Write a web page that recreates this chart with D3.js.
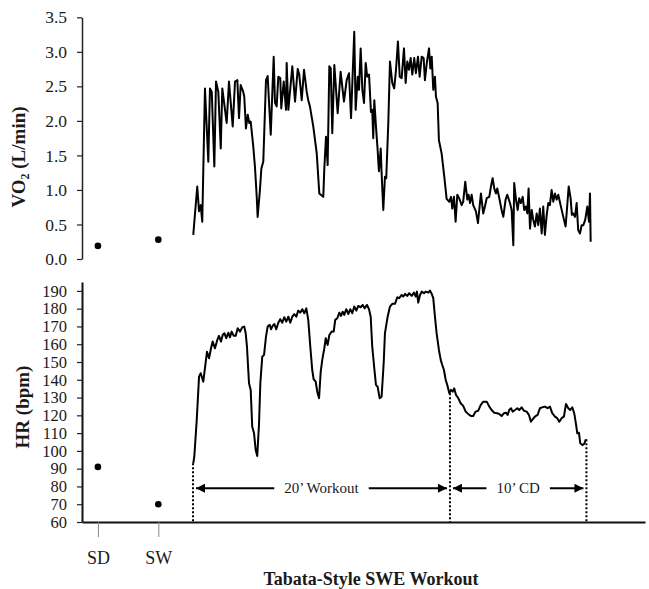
<!DOCTYPE html>
<html>
<head>
<meta charset="utf-8">
<script src="https://cdn.jsdelivr.net/npm/d3@7"></script>
<style>
  body { margin: 0; background: #fff; }
  svg text { font-family: "Liberation Serif", "Times New Roman", serif; fill: #1a1a1a; }
</style>
</head>
<body>
<div id="chart"></div>
<script>
var width = 649,
  height = 589;

// pre-exercise reference points (standing, slow walk)
var preLabels = ["SD", "SW"];
var prePos = [-7.4, -2.7];
var preVO2 = [0.19, 0.28];
var preHR = [91, 70];

// workout timeline, minutes
var vo2Time = [0.02,0.33,0.47,0.60,0.72,0.93,1.19,1.32,1.46,1.66,1.79,1.97,2.16,2.28,2.62,2.80,3.09,3.27,3.45,3.58,3.71,3.91,3.99,4.12,4.26,4.38,4.49,4.69,4.82,4.96,5.03,5.21,5.32,5.47,5.68,5.81,6.05,6.28,6.38,6.51,6.64,6.79,6.87,7.06,7.24,7.29,7.42,7.73,7.94,8.15,8.27,8.46,8.64,8.72,8.85,8.97,9.10,9.36,9.63,9.83,10.14,10.22,10.35,10.48,10.61,10.72,10.84,11.00,11.26,11.49,11.75,11.96,12.14,12.30,12.55,12.66,12.82,12.92,13.05,13.18,13.31,13.44,13.56,13.70,13.85,13.95,14.03,14.11,14.24,14.37,14.47,14.61,14.68,14.81,14.94,15.04,15.20,15.33,15.51,15.66,15.80,15.95,16.09,16.24,16.42,16.55,16.68,16.81,16.94,17.07,17.22,17.35,17.51,17.64,17.80,17.95,18.05,18.21,18.37,18.47,18.58,18.70,18.83,18.91,19.04,19.14,19.35,19.56,19.74,19.95,20.08,20.18,20.31,20.44,20.57,20.72,20.91,21.03,21.19,21.35,21.45,21.56,21.69,21.81,22.02,22.18,22.28,22.41,22.59,22.72,22.86,23.06,23.19,23.32,23.45,23.58,23.68,23.84,24.02,24.15,24.33,24.46,24.67,24.80,24.93,25.00,25.14,25.27,25.39,25.52,25.66,25.78,25.91,26.02,26.12,26.23,26.36,26.48,26.61,26.75,26.87,27.00,27.14,27.26,27.39,27.53,27.65,27.78,27.91,28.04,28.17,28.30,28.43,28.61,28.82,29.00,29.13,29.24,29.39,29.49,29.59,29.73,29.86,29.98,30.12,30.25,30.38,30.53,30.69,30.82,30.90,30.95];
var vo2Val = [0.35,1.05,0.69,0.78,0.54,2.47,1.41,2.47,2.42,1.34,2.57,2.42,1.60,2.47,1.97,2.57,1.92,2.57,2.59,2.04,2.52,2.42,2.35,1.89,2.09,1.97,1.99,1.63,1.34,0.90,0.61,1.00,1.31,1.41,2.59,2.65,1.80,2.93,2.26,2.21,2.64,2.62,2.18,2.57,2.16,2.84,2.16,2.79,2.28,2.75,2.67,2.30,2.74,2.62,2.42,2.30,2.21,1.92,1.53,0.95,0.90,1.31,1.77,1.36,2.79,2.76,1.82,2.81,2.11,2.71,2.28,2.59,2.69,2.04,3.29,2.16,2.64,2.45,3.05,2.45,2.26,2.84,2.64,2.67,2.13,2.16,1.75,2.30,1.92,1.58,1.27,1.60,1.24,0.71,1.19,1.17,1.97,2.86,2.55,2.47,2.74,3.15,2.64,2.62,3.05,2.55,2.86,2.74,2.91,2.67,2.91,2.69,2.93,2.64,2.93,2.91,2.59,2.86,3.05,2.76,2.93,2.45,2.64,2.35,2.26,1.72,1.53,1.19,0.87,0.83,0.90,0.73,0.90,0.54,0.93,0.88,0.78,0.83,1.12,0.86,0.93,0.81,0.93,0.78,0.69,0.52,0.71,0.95,0.66,0.76,0.88,0.90,1.05,1.17,1.02,0.95,1.02,0.88,0.71,0.61,0.86,0.93,0.81,0.71,0.20,1.10,0.86,0.71,0.88,0.81,0.90,0.71,0.76,0.66,1.02,0.44,0.71,0.57,0.47,0.66,0.49,0.73,0.37,0.76,0.35,0.64,0.81,0.78,1.00,0.83,0.95,0.86,0.93,0.78,0.61,0.47,0.78,1.05,0.88,0.64,0.66,0.61,0.81,0.42,0.37,0.49,0.49,0.57,0.76,0.54,0.95,0.25];

var hrTime = [0.02,0.10,0.29,0.47,0.60,0.80,0.93,1.09,1.25,1.40,1.53,1.71,1.89,2.02,2.18,2.31,2.44,2.59,2.75,2.88,3.01,3.17,3.32,3.48,3.66,3.84,3.99,4.10,4.20,4.36,4.49,4.61,4.75,4.88,5.00,5.14,5.24,5.39,5.53,5.68,5.81,5.97,6.07,6.20,6.33,6.48,6.64,6.79,6.95,7.10,7.26,7.42,7.57,7.73,7.88,8.04,8.19,8.35,8.51,8.66,8.82,8.97,9.13,9.28,9.39,9.55,9.67,9.81,9.94,10.06,10.22,10.33,10.48,10.61,10.79,10.95,11.07,11.23,11.39,11.52,11.65,11.77,11.93,12.09,12.24,12.40,12.55,12.71,12.86,13.05,13.21,13.36,13.54,13.70,13.83,13.95,14.11,14.24,14.37,14.53,14.68,14.84,14.94,15.15,15.33,15.51,15.72,15.90,16.05,16.24,16.37,16.50,16.68,16.83,17.02,17.20,17.33,17.43,17.53,17.67,17.80,17.98,18.11,18.31,18.44,18.58,18.70,18.83,18.96,19.14,19.28,19.40,19.53,19.67,19.79,19.95,20.08,20.21,20.33,20.47,20.65,20.83,21.03,21.22,21.42,21.63,21.81,22.00,22.20,22.39,22.59,22.86,23.03,23.24,23.45,23.66,23.84,24.02,24.20,24.36,24.49,24.61,24.75,24.88,25.06,25.24,25.39,25.58,25.76,25.97,26.15,26.30,26.44,26.61,26.82,27.00,27.18,27.39,27.60,27.78,27.96,28.17,28.35,28.51,28.69,28.87,29.03,29.21,29.36,29.52,29.67,29.80,29.91,30.04,30.14,30.30,30.45,30.58];
var hrVal = [93.0,96.7,117.4,141.8,143.7,138.9,146.5,155.8,152.1,157.7,161.5,157.7,162.4,164.7,161.5,165.2,166.2,163.4,166.5,163.9,167.1,164.7,164.7,169.0,167.1,169.6,169.9,166.2,158.6,138.0,134.3,113.6,109.9,100.5,97.1,115.5,138.0,153.0,154.0,164.3,169.9,170.9,168.4,170.3,171.4,168.4,172.1,174.1,172.1,175.2,172.7,175.5,172.1,175.5,176.9,175.5,178.9,177.8,179.7,177.4,180.2,173.7,158.6,145.5,140.3,138.9,133.3,129.6,144.6,151.2,157.7,163.4,159.6,165.2,167.1,167.1,173.7,174.6,177.8,175.9,178.3,176.5,179.7,177.0,179.7,177.4,181.2,178.9,181.5,180.8,182.1,180.2,182.1,179.7,175.5,158.6,146.5,137.1,136.1,129.6,130.5,149.3,166.2,175.5,181.2,182.7,182.7,186.4,185.9,187.7,186.8,188.3,187.2,188.7,187.2,189.0,186.8,189.6,183.4,187.7,189.6,188.7,189.6,189.0,190.2,188.3,185.9,175.5,166.2,156.8,151.2,148.3,145.5,139.9,137.1,132.4,134.3,133.3,135.2,131.5,129.6,126.8,125.3,122.1,120.8,119.6,119.6,122.1,122.6,125.8,127.7,127.7,125.3,123.0,121.5,121.2,120.8,119.6,121.2,121.5,120.2,123.0,124.0,122.1,123.0,124.0,123.0,124.5,122.6,122.1,120.2,116.4,117.8,119.3,120.2,124.0,124.5,124.9,124.0,124.9,121.2,119.3,118.4,116.4,118.4,119.3,126.4,124.0,123.0,124.5,121.2,115.5,109.9,110.2,104.3,103.3,103.9,106.5];

// phase boundaries and labels
var phaseEdges = [0, 20, 30.62];
var phaseLabels = ["20\u2019 Workout", "10\u2019 CD"];

var vo2Ticks = [0, 0.5, 1, 1.5, 2, 2.5, 3, 3.5];
var hrTicks = d3.range(60, 191, 10);

var left = 82, right = 645;

var svg = d3.select("#chart").append("svg")
  .attr("width", width)
  .attr("height", height);

var x = d3.scaleLinear().domain([-8.64, 35.18]).range([left, right]);
var yV = d3.scaleLinear().domain([0, 3.5]).range([259, 17.3]);
var yH = d3.scaleLinear().domain([60, 195]).range([522, 282]);

var vo2 = vo2Time.map(function (t, i) { return [t, vo2Val[i]]; });
var hr = hrTime.map(function (t, i) { return [t, hrVal[i]]; });

// ---- top panel: VO2
var gTop = svg.append("g");
gTop.append("g")
  .attr("transform", "translate(" + left + ",0)")
  .call(d3.axisLeft(yV).tickValues(vo2Ticks).tickFormat(d3.format(".1f")).tickSize(5).tickPadding(10).tickSizeOuter(0))
  .call(function (g) {
    g.selectAll("text").style("font-size", "17.5px");
    g.select(".domain").attr("stroke", "#222").attr("stroke-width", 1.5);
    g.selectAll(".tick line").attr("stroke", "#222").attr("stroke-width", 1.2);
  });

gTop.append("path")
  .datum(vo2)
  .attr("fill", "none")
  .attr("stroke", "#000")
  .attr("stroke-width", 2)
  .attr("stroke-linejoin", "round")
  .attr("d", d3.line().x(function (d) { return x(d[0]); }).y(function (d) { return yV(d[1]); }));

gTop.selectAll(".predot")
  .data(preVO2)
  .enter().append("circle")
  .attr("cx", function (d, i) { return x(prePos[i]); })
  .attr("cy", function (d) { return yV(d); })
  .attr("r", 3.3)
  .attr("fill", "#000");

var vLab = gTop.append("text")
  .attr("transform", "translate(25," + 157 + ")rotate(-90)")
  .attr("text-anchor", "middle")
  .style("font-size", "19px")
  .style("font-weight", "bold");
vLab.append("tspan").text("VO");
vLab.append("tspan").text("2").style("font-size", "12px").attr("dy", 4);
vLab.append("tspan").text(" (L/min)").attr("dy", -4);

// ---- bottom panel: HR
var gBot = svg.append("g");
gBot.append("g")
  .attr("transform", "translate(" + left + ",0)")
  .call(d3.axisLeft(yH).tickValues(hrTicks).tickSize(5).tickPadding(10).tickSizeOuter(0))
  .call(function (g) {
    g.selectAll("text").style("font-size", "16.5px");
    g.select(".domain").attr("stroke", "#111").attr("stroke-width", 2);
    g.selectAll(".tick line").attr("stroke", "#222").attr("stroke-width", 1.2);
  });

gBot.append("g")
  .attr("transform", "translate(0,522)")
  .call(d3.axisBottom(x).tickValues(prePos).tickFormat(function (d, i) { return preLabels[i]; }).tickSize(15).tickPadding(14).tickSizeOuter(0))
  .call(function (g) {
    g.selectAll("text").style("font-size", "18px");
    g.select(".domain").attr("stroke", "#111").attr("stroke-width", 2);
    g.selectAll(".tick line").attr("stroke", "#888").attr("stroke-width", 1);
  });

// phase boundary markers, from the HR trace down to the axis
var hrAt = function (t) {
  var i = d3.bisector(function (d) { return d[0]; }).center(hr, t);
  return hr[i][1];
};
gBot.selectAll(".edge")
  .data(phaseEdges)
  .enter().append("line")
  .attr("x1", function (d) { return x(d); })
  .attr("x2", function (d) { return x(d); })
  .attr("y1", function (d) { return yH(hrAt(d)); })
  .attr("y2", yH(60))
  .attr("stroke", "#000")
  .attr("stroke-width", 2)
  .attr("stroke-dasharray", "2,2");

gBot.append("path")
  .datum(hr)
  .attr("fill", "none")
  .attr("stroke", "#000")
  .attr("stroke-width", 2)
  .attr("stroke-linejoin", "round")
  .attr("d", d3.line().x(function (d) { return x(d[0]); }).y(function (d) { return yH(d[1]); }));

gBot.selectAll(".predot")
  .data(preHR)
  .enter().append("circle")
  .attr("cx", function (d, i) { return x(prePos[i]); })
  .attr("cy", function (d) { return yH(d); })
  .attr("r", 3.3)
  .attr("fill", "#000");

gBot.append("text")
  .attr("transform", "translate(29,407)rotate(-90)")
  .attr("text-anchor", "middle")
  .style("font-size", "19px")
  .style("font-weight", "bold")
  .text("HR (bpm)");

// arrows
svg.append("defs").append("marker")
  .attr("id", "arr")
  .attr("viewBox", "0 0 10 10")
  .attr("refX", 10).attr("refY", 5)
  .attr("markerUnits", "userSpaceOnUse")
  .attr("markerWidth", 11).attr("markerHeight", 9)
  .attr("orient", "auto")
  .append("path").attr("d", "M0,0L10,5L0,10Z").attr("fill", "#000");

var arrowY = yH(79);
phaseLabels.forEach(function (lab, i) {
  var a = x(phaseEdges[i]), b = x(phaseEdges[i + 1]);
  var t = gBot.append("text")
    .attr("x", (a + b) / 2)
    .attr("y", arrowY + 5)
    .attr("text-anchor", "middle")
    .style("font-size", "15px")
    .text(lab);
  var w = t.node().getComputedTextLength();
  gBot.append("line")
    .attr("x1", (a + b) / 2 - w / 2 - 10).attr("x2", a + 3)
    .attr("y1", arrowY).attr("y2", arrowY)
    .attr("stroke", "#000").attr("stroke-width", 2)
    .attr("marker-end", "url(#arr)");
  gBot.append("line")
    .attr("x1", (a + b) / 2 + w / 2 + 10).attr("x2", b - 3)
    .attr("y1", arrowY).attr("y2", arrowY)
    .attr("stroke", "#000").attr("stroke-width", 2)
    .attr("marker-end", "url(#arr)");
});

svg.append("text")
  .attr("x", 371)
  .attr("y", 585)
  .attr("text-anchor", "middle")
  .style("font-size", "18px")
  .style("font-weight", "bold")
  .text("Tabata-Style SWE Workout");
</script>
</body>
</html>
